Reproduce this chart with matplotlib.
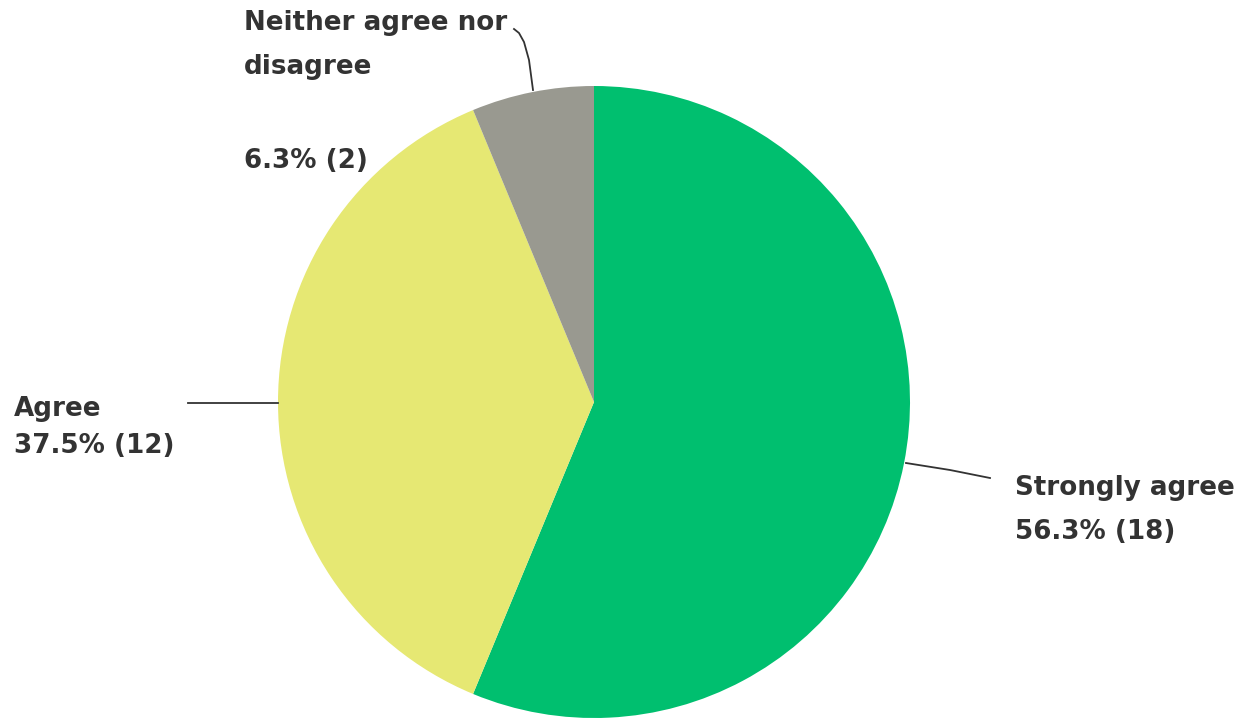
import matplotlib.pyplot as plt

labels = ["Strongly agree", "Agree", "Neither agree nor\ndisagree"]
counts = [18, 12, 2]
colors = ["#00BF6F", "#E6E873", "#999990"]

total = sum(counts)
# round half up, as the survey tool does (56.25 -> 56.3)
pcts = [int(c * 1000 / total + 0.5) / 10 for c in counts]

W, H = 1245, 719
fig = plt.figure(figsize=(W / 100, H / 100), dpi=100)
ax = fig.add_axes([0, 0, 1, 1])

# pie centre in pixel coords (y flipped)
cx, cy, r = 594, H - 402, 316
ax.pie(counts, colors=colors, startangle=90, counterclock=False,
       center=(cx, cy), radius=r, frame=True,
       wedgeprops=dict(linewidth=0))
ax.set_xlim(0, W)
ax.set_ylim(0, H)
ax.set_aspect("equal")
ax.axis("off")

font = dict(family="DejaVu Sans", fontsize=18.8, color="#333333", weight="semibold")
lc = "#333333"

# Strongly agree
ax.plot([906, 950, 990], [H - 463, H - 470, H - 478], color=lc, lw=1.3)
ax.text(1015, H - 488, labels[0], va="center", ha="left", **font)
ax.text(1015, H - 532, f"{pcts[0]:.1f}% ({counts[0]})", va="center", ha="left", **font)

# Agree
ax.plot([188, 278], [H - 403, H - 403], color=lc, lw=1.3)
ax.text(14, H - 409, labels[1], va="center", ha="left", **font)
ax.text(14, H - 446, f"{pcts[1]:.1f}% ({counts[1]})", va="center", ha="left", **font)

# Neither
ax.plot([533, 529, 524, 519, 514], [H - 90, H - 60, H - 42, H - 33, H - 29], color=lc, lw=1.3)
ax.text(244, H - 45, labels[2], va="center", ha="left", linespacing=1.9, **font)
ax.text(244, H - 161, f"{pcts[2]:.1f}% ({counts[2]})", va="center", ha="left", **font)

fig.savefig("out.png", dpi=100)
